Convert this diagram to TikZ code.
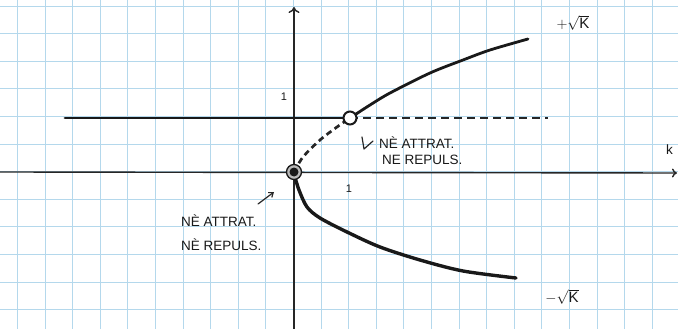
\documentclass[tikz,border=0pt]{standalone}
\usepackage{fontspec}
\setmainfont{Liberation Sans}
\usetikzlibrary{arrows.meta}
\definecolor{gridblue}{RGB}{180,216,236}
\begin{document}
\begin{tikzpicture}[x=1pt,y=-1pt,
  gridline/.style={draw=gridblue,line width=0.9pt},
  axis/.style={line width=1.4pt,black!85},
  curve/.style={line width=2.8pt,black!90,line cap=round},
  dashcurve/.style={line width=2.7pt,black!85,dash pattern=on 8pt off 5pt},
  lbl/.style={font=\fontsize{11}{13}\selectfont,inner sep=0pt,text=black!90},
  note/.style={font=\fontsize{13.5}{16}\selectfont,inner sep=0pt,text=black!90},
  penmark/.style={line width=1.2pt,black!85,line cap=round,line join=round}
]
\fill[white] (0,0) rectangle (678,329);
\useasboundingbox (0,0) rectangle (678,329);
% grid paper
\foreach \i in {0,...,24} \draw[gridline] ({17.4+27.6*\i},0) -- ({17.4+27.6*\i},329);
\foreach \j in {0,...,11} \draw[gridline] (0,{6+27.6*\j}) -- (678,{6+27.6*\j});
% axes
\coordinate (xl) at (0,172);
\coordinate (xr) at (677,173);
\coordinate (yb) at (294,329);
\coordinate (yt) at (294,7);
\draw[axis,-{To[length=5pt,width=9pt]}] (xl) -- (xr);
\draw[axis,-{To[length=6pt,width=11pt]}] (yb) -- (yt);
\node[lbl] (oney) at (284,97) {1};
\node[lbl] (onex) at (349,189) {1};
\node[note,anchor=west] (klab) at (666,150) {k};
% horizontal equilibrium
\coordinate (hl) at (65,118);
\coordinate (P) at (350,118);
\coordinate (hr) at (548,118);
\coordinate (O) at (294,172);
\draw[curve] (hl) -- (P);
\draw[dashcurve] (P) -- (hr);
% upper branch
\draw[dashcurve,dash pattern=on 6pt off 4pt] plot[smooth] coordinates {(294,172) (303,157) (320,140) (337,127) (350,118)};
\draw[curve] plot[smooth] coordinates {(350,118) (370,105) (390,93) (430,73) (463,60) (490,50) (528,39)};
% lower branch
\draw[curve,line width=3.4pt] plot[smooth] coordinates {(294,174) (299,190) (307,207) (320,218) (347,232) (380,247) (420,260) (463,271) (516,278)};
% equilibrium points
\node[circle,draw=black!90,line width=2pt,fill=white,minimum size=13pt,inner sep=0pt] (Pc) at (P) {};
\node[circle,draw=black!90,line width=1.3pt,fill=gray!55,minimum size=15pt,inner sep=0pt] (Oc) at (O) {};
\node[circle,fill=black!90,minimum size=9pt,inner sep=0pt] (Od) at (O) {};
% branch labels
\node[note,font=\fontsize{15}{17}\selectfont] (plusk) at (573,23) {$+\sqrt{\mbox{K}}$};
\node[note,font=\fontsize{15}{17}\selectfont] (minusk) at (562,297) {$-\sqrt{\mbox{K}}$};
% upper annotation
\coordinate (h1) at (362,137);
\coordinate (h2) at (364,149);
\coordinate (h3) at (373,141);
\draw[penmark] (h1) -- (h2) -- (h3);
\node[note,anchor=west] (ua) at (379,143) {NÈ ATTRAT.};
\node[note,anchor=west] (ur) at (382,160) {NE REPULS.};
% lower annotation
\node[note,anchor=west] (la) at (181,221) {NÈ ATTRAT.};
\node[note,anchor=west] (lr) at (181,245) {NÈ REPULS.};
\coordinate (a1) at (258,204);
\coordinate (a2) at (274,192);
\draw[penmark,-{Straight Barb[length=4pt,width=6pt]}] (a1) -- (a2);
\end{tikzpicture}
\end{document}
